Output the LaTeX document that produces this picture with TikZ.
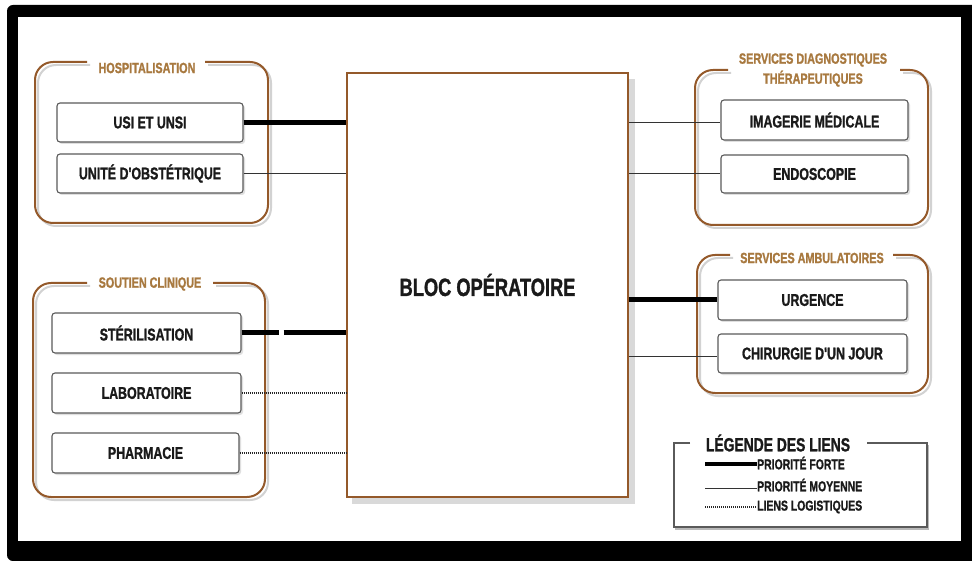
\documentclass[tikz,border=0pt]{standalone}
\usepackage{fontspec}
\newfontfamily\cond{Liberation Sans}[FakeStretch=0.73, BoldFeatures={FakeBold=1.2}]
\definecolor{brn}{HTML}{94592A}
\definecolor{brt}{HTML}{A8793F}
\definecolor{txt}{HTML}{1A1A1A}
\definecolor{boxd}{HTML}{5A5A5A}
\tikzset{
  grp/.style={draw=brn, line width=2pt, rounded corners=18pt},
  grpshadow/.style={draw=gray!35, line width=2pt, rounded corners=18pt},
  unit/.style={draw=boxd, line width=1.1pt, rounded corners=3pt, fill=white,
    inner sep=0pt, font=\cond\bfseries\fontsize{17}{18}\selectfont, text=txt},
  gtitle/.style={font=\cond\bfseries\fontsize{14.8}{17}\selectfont, text=brt, align=center, inner sep=0pt},
  ltext/.style={font=\cond\bfseries\fontsize{14.3}{16}\selectfont, text=txt, anchor=west, inner sep=0pt},
  strong/.style={line width=5pt, draw=black},
  medium/.style={line width=1pt, draw=gray!40!black},
  logi/.style={line width=1.3pt, dash pattern=on 1pt off 1pt, draw=gray!30!black},
}
\begin{document}
\begin{tikzpicture}[x=1pt,y=-1pt]
\useasboundingbox (0,0) rectangle (972,561);
% black frame
\fill[black] (972,5) [rounded corners=6pt] -- (7,5) -- (7,561) [sharp corners] -- (972,561) -- cycle;
\fill[white] (18,17) rectangle (961,541);

% group shadows
\draw[grpshadow] (208,65) -- (271,65) -- (271,226) -- (38,226) -- (38,65) -- (90,65);
\draw[grpshadow] (216,286) -- (268,286) -- (268,500) -- (36,500) -- (36,286) -- (90,286);
\draw[grpshadow] (903,73) -- (931,73) -- (931,228) -- (698,228) -- (698,73) -- (731,73);
\draw[grpshadow] (896,258) -- (931,258) -- (931,396) -- (700,396) -- (700,258) -- (733,258);

% groups
\draw[grp] (205,62) -- (268,62) -- (268,223) -- (35,223) -- (35,62) -- (87,62);
\node[gtitle] (thosp) at (147,68) {HOSPITALISATION};
\draw[grp] (213,283) -- (265,283) -- (265,497) -- (33,497) -- (33,283) -- (87,283);
\node[gtitle] (tsout) at (150,284) {SOUTIEN CLINIQUE};
\draw[grp] (900,70) -- (928,70) -- (928,225) -- (695,225) -- (695,70) -- (728,70);
\node[gtitle] (tdiag) at (813,70) {SERVICES DIAGNOSTIQUES\\[3pt]THÉRAPEUTIQUES};
\draw[grp] (893,255) -- (928,255) -- (928,393) -- (697,393) -- (697,255) -- (730,255);
\node[gtitle] (tamb) at (812,258) {SERVICES AMBULATOIRES};

% bloc
\fill[gray!30] (352,79) rectangle (635,504);
\node[draw=brn, line width=2.8pt, fill=white, minimum width=281pt, minimum height=424pt,
  inner sep=0pt, font=\cond\bfseries\fontsize{25}{28}\selectfont, text=txt]
  (bloc) at (487.5,285) {BLOC OPÉRATOIRE};

% unit boxes (with soft shadows)
\foreach \cx/\cy/\w/\h in {150/122.5/186/39, 150/173.5/186/39, 146.5/333/189/40, 146.5/393/189/40,
  145.5/453/187/40, 814.5/120/187/40, 814.5/174/187/38, 812.5/300/189/40, 812.5/353.5/189/39}{
  \fill[gray!25, rounded corners=3pt] (\cx-\w/2+2,\cy-\h/2+2) rectangle (\cx+\w/2+2,\cy+\h/2+2);
}
\node[unit, minimum width=186pt, minimum height=39pt] (usi) at (150,122.5) {USI ET UNSI};
\node[unit, minimum width=186pt, minimum height=39pt] (obst) at (150,173.5) {UNITÉ D'OBSTÉTRIQUE};
\node[unit, minimum width=189pt, minimum height=40pt] (steril) at (146.5,333) {STÉRILISATION};
\node[unit, minimum width=189pt, minimum height=40pt] (labo) at (146.5,393) {LABORATOIRE};
\node[unit, minimum width=187pt, minimum height=40pt] (pharma) at (145.5,453) {PHARMACIE};
\node[unit, minimum width=187pt, minimum height=40pt] (imag) at (814.5,120) {IMAGERIE MÉDICALE};
\node[unit, minimum width=187pt, minimum height=38pt] (endo) at (814.5,174) {ENDOSCOPIE};
\node[unit, minimum width=189pt, minimum height=40pt] (urg) at (812.5,300) {URGENCE};
\node[unit, minimum width=189pt, minimum height=39pt] (chir) at (812.5,353.5) {CHIRURGIE D'UN JOUR};

% connectors
\draw[strong] (usi.east) -- (usi.east -| bloc.west);
\draw[medium] (obst.east) -- (obst.east -| bloc.west);
\draw[strong, dash pattern=on 37pt off 5pt on 200pt] (steril.east) -- (steril.east -| bloc.west);
\draw[logi] (labo.east) -- (labo.east -| bloc.west);
\draw[logi] (pharma.east) -- (pharma.east -| bloc.west);
\draw[medium] ([yshift=-3pt]imag.east -| bloc.east) -- ([yshift=-3pt]imag.west);
\draw[medium] (endo.west -| bloc.east) -- (endo.west);
\draw[strong] (urg.west -| bloc.east) -- (urg.west);
\draw[medium] ([yshift=-2.5pt]chir.west -| bloc.east) -- ([yshift=-2.5pt]chir.west);

% legend
\draw[gray!55, line width=1.5pt] (675,529) -- (928,529) -- (928,445);
\draw[boxd, line width=1.2pt] (690,443) -- (674,443) -- (674,527) -- (927,527) -- (927,443) -- (867,443);
\node[font=\cond\bfseries\fontsize{19}{21}\selectfont, text=txt, inner sep=0pt] (ltitle) at (778,443) {LÉGENDE DES LIENS};
\node[ltext] (lforte) at (757,463) {PRIORITÉ FORTE};
\node[ltext] (lmoy) at (757,485) {PRIORITÉ MOYENNE};
\node[ltext] (llog) at (757,507) {LIENS LOGISTIQUES};
\coordinate (lf) at (705,464);
\coordinate (lm) at (705,488);
\coordinate (ll) at (705,507);
\draw[strong, line width=4.5pt] (lf) -- (lforte.west |- lf);
\draw[medium] (lm) -- (lmoy.west |- lm);
\draw[logi] (ll) -- (llog.west |- ll);
\end{tikzpicture}
\end{document}
